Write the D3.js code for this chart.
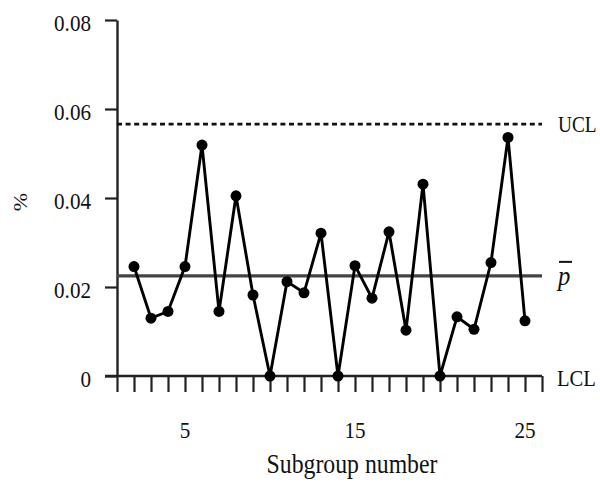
<!DOCTYPE html>
<html>
<head>
<meta charset="utf-8">
<script src="https://cdn.jsdelivr.net/npm/d3@7"></script>
<style>
  html, body { margin: 0; padding: 0; background: #fff; }
  svg { display: block; }
  text { font-family: "Liberation Serif", "DejaVu Serif", serif; fill: #111; }
</style>
</head>
<body>
<svg id="chart" width="600" height="487"></svg>
<script>
// ---- data ----
const subgroups = [2,3,4,5,6,7,8,9,10,11,12,13,14,15,16,17,18,19,20,21,22,23,24,25];
const proportions = [0.0246,0.0130,0.0145,0.0246,0.0519,0.0145,0.0405,0.0182,0.0,0.0212,0.0187,0.0321,0.0,0.0248,0.0175,0.0324,0.0103,0.0431,0.0,0.0133,0.0105,0.0255,0.0536,0.0124];
const ucl = 0.0566;
const pbar = 0.0225;
const lcl = 0;
const yTicks = [0, 0.02, 0.04, 0.06, 0.08];
const yTickLabels = ["0", "0.02", "0.04", "0.06", "0.08"];
const xLabelTicks = [5, 15, 25];
const xAllTicks = d3.range(1, 27);
const xTitle = "Subgroup number";
const yTitle = "%";

// ---- layout ----
const svg = d3.select("#chart");
const x = d3.scaleLinear().domain([1, 26]).range([117, 542]);
const y = d3.scaleLinear().domain([0, 0.08]).range([376, 20]);
const sx = 0.88;
const fs = 24;

function txt(px, py, s, anchor, size, scl) {
  return svg.append("text")
    .attr("transform", `translate(${px},${py}) scale(${scl || sx},1)`)
    .attr("text-anchor", anchor)
    .style("font-size", (size || fs) + "px")
    .text(s);
}

// x axis
const xAxis = d3.axisBottom(x).tickValues(xAllTicks).tickSize(16).tickSizeOuter(0).tickFormat("");
const gx = svg.append("g").attr("transform", `translate(0,${y(0)})`).call(xAxis);
gx.select(".domain").attr("stroke", "#222").attr("stroke-width", 2.4)
  .attr("d", `M${x(1) - 12},0H${x(26)}`);
gx.selectAll(".tick line").attr("stroke", "#222").attr("stroke-width", 2.2);

// y axis
const yAxis = d3.axisLeft(y).tickValues(yTicks).tickSize(12).tickSizeOuter(0)
  .tickFormat((d, i) => yTickLabels[i]);
const gy = svg.append("g").attr("transform", `translate(${x(1)},0)`).call(yAxis);
gy.select(".domain").attr("stroke", "#222").attr("stroke-width", 2.4);
gy.selectAll(".tick line").attr("stroke", "#222").attr("stroke-width", 2.2);
gy.selectAll(".tick text")
  .attr("x", null).attr("dy", "0.32em")
  .attr("transform", `translate(-26,3) scale(${sx},1)`)
  .style("font-size", fs + "px")
  .style("fill", "#111");
gy.attr("font-size", null).attr("font-family", null);

// x tick labels
xLabelTicks.forEach(v => txt(x(v), 438, String(v), "middle"));

// titles
txt(352, 473, xTitle, "middle", 27);
svg.append("text")
  .attr("transform", `translate(27,202) rotate(-90) scale(1,${sx})`)
  .attr("text-anchor", "middle")
  .style("font-size", "22px")
  .text(yTitle);

// control lines
svg.append("line")
  .attr("x1", x(1)).attr("x2", x(26)).attr("y1", y(ucl)).attr("y2", y(ucl))
  .attr("stroke", "#111").attr("stroke-width", 2.8).attr("stroke-dasharray", "5,3.6");
svg.append("line")
  .attr("x1", x(1)).attr("x2", x(26)).attr("y1", y(pbar)).attr("y2", y(pbar))
  .attr("stroke", "#444").attr("stroke-width", 3.2);

// data line
const line = d3.line().x((d, i) => x(subgroups[i])).y(d => y(d));
svg.append("path").datum(proportions)
  .attr("d", line).attr("fill", "none").attr("stroke", "#000")
  .attr("stroke-width", 2.9).attr("stroke-linejoin", "miter");

svg.selectAll("circle.pt").data(proportions).enter().append("circle")
  .attr("class", "pt")
  .attr("cx", (d, i) => x(subgroups[i])).attr("cy", d => y(d))
  .attr("r", 5.5).attr("fill", "#000");

// right labels
txt(558, y(ucl) + 8, "UCL", "start", 23, 0.84);
txt(557, y(lcl) + 10, "LCL", "start", 24, 0.86);
const pl = txt(558, y(pbar) + 9, "p", "start", 28);
pl.style("font-style", "italic");
svg.append("line")
  .attr("x1", 559).attr("x2", 572).attr("y1", y(pbar) - 14).attr("y2", y(pbar) - 14)
  .attr("stroke", "#111").attr("stroke-width", 2);
</script>
</body>
</html>
